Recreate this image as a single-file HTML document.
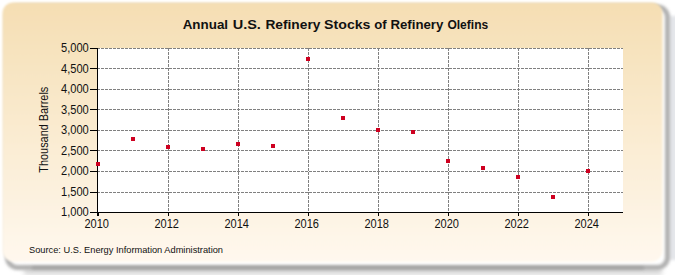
<!DOCTYPE html>
<html><head><meta charset="utf-8">
<style>
html,body{margin:0;padding:0;width:675px;height:275px;overflow:hidden;background:#fff;}
svg{display:block;}
text{font-family:"Liberation Sans",sans-serif;fill:#111;}
</style></head><body>
<svg width="675" height="275" viewBox="0 0 675 275">
<defs>
<linearGradient id="bg" x1="0" y1="0" x2="0" y2="1">
<stop offset="0" stop-color="#F5DEB3"/>
<stop offset="1" stop-color="#FFF8EE"/>
</linearGradient>
<filter id="sh" x="-5%" y="-5%" width="115%" height="120%">
<feGaussianBlur stdDeviation="1.8"/>
</filter>
<filter id="sh2" x="-5%" y="-200%" width="110%" height="500%">
<feGaussianBlur stdDeviation="2.5"/>
</filter>
<filter id="sh3" x="-5%" y="-300%" width="110%" height="700%">
<feGaussianBlur stdDeviation="1.6"/>
</filter>
<filter id="sh4" x="-200%" y="-5%" width="500%" height="110%">
<feGaussianBlur stdDeviation="1.5"/>
</filter>
<filter id="soft" x="-2%" y="-2%" width="104%" height="104%">
<feGaussianBlur stdDeviation="0.9"/>
</filter>
</defs>
<rect x="24" y="268.5" width="638" height="6" fill="#d4d4d4" filter="url(#sh2)"/>
<rect x="669" y="16" width="8" height="244" fill="#e4e6ea" filter="url(#sh4)"/>
<rect x="7.5" y="7" width="660" height="260.5" rx="10" ry="10" fill="none" stroke="#b0b0b0" stroke-width="5" filter="url(#sh)"/>
<rect x="32" y="266.5" width="612" height="3" fill="#8c8c8c" fill-opacity="0.5" filter="url(#sh3)"/>
<rect x="2.5" y="2.5" width="660" height="259.2" rx="10.5" ry="10.5" fill="url(#bg)" filter="url(#soft)"/>
<rect x="97" y="48" width="526" height="165" fill="#fff"/>

<g stroke="#808080" stroke-width="1" stroke-dasharray="3,1" fill="none" shape-rendering="crispEdges">
<line x1="97" y1="48.5" x2="623" y2="48.5"/>
<line x1="97" y1="68.5" x2="623" y2="68.5"/>
<line x1="97" y1="89.5" x2="623" y2="89.5"/>
<line x1="97" y1="109.5" x2="623" y2="109.5"/>
<line x1="97" y1="130.5" x2="623" y2="130.5"/>
<line x1="97" y1="150.5" x2="623" y2="150.5"/>
<line x1="97" y1="171.5" x2="623" y2="171.5"/>
<line x1="97" y1="192.5" x2="623" y2="192.5"/>
<line x1="168.5" y1="48" x2="168.5" y2="212"/>
<line x1="238.5" y1="48" x2="238.5" y2="212"/>
<line x1="308.5" y1="48" x2="308.5" y2="212"/>
<line x1="378.5" y1="48" x2="378.5" y2="212"/>
<line x1="448.5" y1="48" x2="448.5" y2="212"/>
<line x1="518.5" y1="48" x2="518.5" y2="212"/>
<line x1="588.5" y1="48" x2="588.5" y2="212"/>
</g>
<g stroke="#000" fill="none" shape-rendering="crispEdges">
<line x1="97.5" y1="48" x2="97.5" y2="216" stroke-width="1"/>
<line x1="97" y1="212.5" x2="623" y2="212.5" stroke-width="1"/>
<line x1="90" y1="48.5" x2="97" y2="48.5"/>
<line x1="90" y1="68.5" x2="97" y2="68.5"/>
<line x1="90" y1="89.5" x2="97" y2="89.5"/>
<line x1="90" y1="109.5" x2="97" y2="109.5"/>
<line x1="90" y1="130.5" x2="97" y2="130.5"/>
<line x1="90" y1="150.5" x2="97" y2="150.5"/>
<line x1="90" y1="171.5" x2="97" y2="171.5"/>
<line x1="90" y1="192.5" x2="97" y2="192.5"/>
<line x1="90" y1="212.5" x2="97" y2="212.5"/>
<line x1="98.5" y1="212" x2="98.5" y2="216"/>
<line x1="168.5" y1="212" x2="168.5" y2="216"/>
<line x1="238.5" y1="212" x2="238.5" y2="216"/>
<line x1="308.5" y1="212" x2="308.5" y2="216"/>
<line x1="378.5" y1="212" x2="378.5" y2="216"/>
<line x1="448.5" y1="212" x2="448.5" y2="216"/>
<line x1="518.5" y1="212" x2="518.5" y2="216"/>
<line x1="588.5" y1="212" x2="588.5" y2="216"/>
</g>
<g font-size="13.5" font-weight="bold">
<text x="182.70" y="28.7" textLength="45.40" lengthAdjust="spacingAndGlyphs">Annual</text>
<text x="232.70" y="28.7" textLength="28.20" lengthAdjust="spacingAndGlyphs">U.S.</text>
<text x="265.40" y="28.7" textLength="55.00" lengthAdjust="spacingAndGlyphs">Refinery</text>
<text x="324.10" y="28.7" textLength="46.40" lengthAdjust="spacingAndGlyphs">Stocks</text>
<text x="374.20" y="28.7" textLength="12.40" lengthAdjust="spacingAndGlyphs">of</text>
<text x="390.40" y="28.7" textLength="53.00" lengthAdjust="spacingAndGlyphs">Refinery</text>
<text x="447.40" y="28.7" textLength="40.80" lengthAdjust="spacingAndGlyphs">Olefins</text>
</g>
<g font-size="12" text-anchor="end">
<text x="88.8" y="52.20" textLength="27.8" lengthAdjust="spacingAndGlyphs">5,000</text>
<text x="88.8" y="72.70" textLength="27.8" lengthAdjust="spacingAndGlyphs">4,500</text>
<text x="88.8" y="93.20" textLength="27.8" lengthAdjust="spacingAndGlyphs">4,000</text>
<text x="88.8" y="113.70" textLength="27.8" lengthAdjust="spacingAndGlyphs">3,500</text>
<text x="88.8" y="134.20" textLength="27.8" lengthAdjust="spacingAndGlyphs">3,000</text>
<text x="88.8" y="154.70" textLength="27.8" lengthAdjust="spacingAndGlyphs">2,500</text>
<text x="88.8" y="175.20" textLength="27.8" lengthAdjust="spacingAndGlyphs">2,000</text>
<text x="88.8" y="195.70" textLength="27.8" lengthAdjust="spacingAndGlyphs">1,500</text>
<text x="88.8" y="216.20" textLength="27.8" lengthAdjust="spacingAndGlyphs">1,000</text>
</g>
<g font-size="12" text-anchor="middle">
<text x="96.75" y="227.6" textLength="24.5" lengthAdjust="spacingAndGlyphs">2010</text>
<text x="166.75" y="227.6" textLength="24.5" lengthAdjust="spacingAndGlyphs">2012</text>
<text x="236.75" y="227.6" textLength="24.5" lengthAdjust="spacingAndGlyphs">2014</text>
<text x="306.75" y="227.6" textLength="24.5" lengthAdjust="spacingAndGlyphs">2016</text>
<text x="376.75" y="227.6" textLength="24.5" lengthAdjust="spacingAndGlyphs">2018</text>
<text x="446.75" y="227.6" textLength="24.5" lengthAdjust="spacingAndGlyphs">2020</text>
<text x="516.75" y="227.6" textLength="24.5" lengthAdjust="spacingAndGlyphs">2022</text>
<text x="586.75" y="227.6" textLength="24.5" lengthAdjust="spacingAndGlyphs">2024</text>
</g>
<text transform="translate(48,129.7) rotate(-90)" font-size="12" text-anchor="middle" textLength="86" lengthAdjust="spacingAndGlyphs">Thousand Barrels</text>
<text x="29" y="253.3" font-size="9.8" textLength="194" lengthAdjust="spacingAndGlyphs">Source: U.S. Energy Information Administration</text>
<g fill="#CE0020">
<rect x="96" y="162" width="4" height="4"/>
<rect x="131" y="137" width="4" height="4"/>
<rect x="166" y="145" width="4" height="4"/>
<rect x="201" y="147" width="4" height="4"/>
<rect x="236" y="142" width="4" height="4"/>
<rect x="271" y="144" width="4" height="4"/>
<rect x="306" y="57" width="4" height="4"/>
<rect x="341" y="116" width="4" height="4"/>
<rect x="376" y="128" width="4" height="4"/>
<rect x="411" y="130" width="4" height="4"/>
<rect x="446" y="159" width="4" height="4"/>
<rect x="481" y="166" width="4" height="4"/>
<rect x="516" y="175" width="4" height="4"/>
<rect x="551" y="195" width="4" height="4"/>
<rect x="586" y="169" width="4" height="4"/>
</g>
</svg>
</body></html>
